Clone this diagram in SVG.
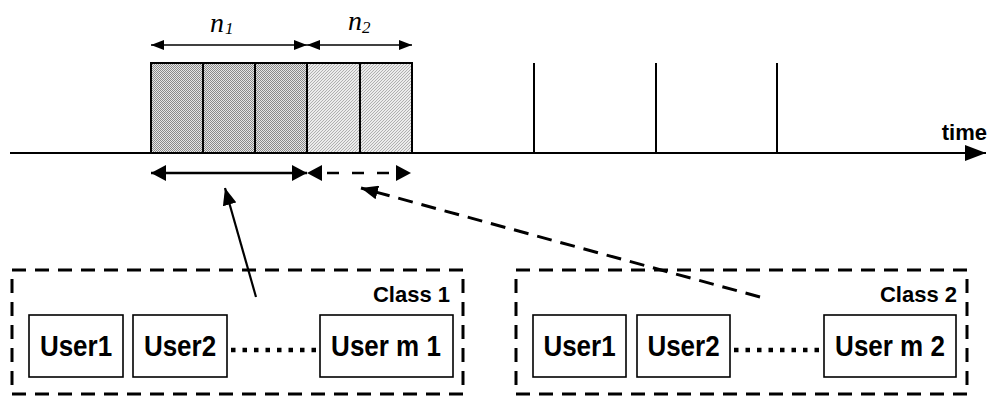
<svg xmlns="http://www.w3.org/2000/svg" width="991" height="396" viewBox="0 0 991 396">
<style>
.lbl{font-family:"Liberation Sans",Arial,sans-serif;font-weight:bold;fill:#000}
.user{font-size:26px;text-anchor:middle}
.cls{font-size:22px;text-anchor:end}
.math{font-family:"Liberation Serif","Times New Roman",serif;font-style:italic;fill:#000}
.ubox{fill:#fff;stroke:#000;stroke-width:1.6}
.cbox{fill:none;stroke:#000;stroke-width:3;stroke-dasharray:14 9}
.blk{stroke:#000;stroke-width:2}
.dots{stroke:#000;stroke-width:4.5;stroke-dasharray:4.5 7}
</style>
<defs>
<pattern id="dark" width="2" height="2" patternUnits="userSpaceOnUse"><rect width="2" height="2" fill="#e6e6e6"/><rect width="1" height="1" fill="#8a8a8a"/><rect x="1" y="1" width="1" height="1" fill="#8a8a8a"/></pattern>
<pattern id="light" width="3" height="3" patternUnits="userSpaceOnUse"><rect width="3" height="3" fill="#ececec"/><path d="M-1,4 L4,-1" stroke="#b0b0b0" stroke-width="1"/></pattern>
<marker id="aS" markerUnits="userSpaceOnUse" markerWidth="13" markerHeight="10" refX="13" refY="5" orient="auto-start-reverse"><path d="M0,0 L13,5 L0,10 z" fill="#000"/></marker>
<marker id="aL" markerUnits="userSpaceOnUse" markerWidth="15" markerHeight="16" refX="15" refY="8" orient="auto-start-reverse"><path d="M0,0 L15,8 L0,16 z" fill="#000"/></marker>
<marker id="aT" markerUnits="userSpaceOnUse" markerWidth="21" markerHeight="16" refX="21" refY="8" orient="auto-start-reverse"><path d="M0,0 L21,8 L0,16 z" fill="#000"/></marker>
<marker id="aD" markerUnits="userSpaceOnUse" markerWidth="17" markerHeight="14" refX="17" refY="7" orient="auto"><path d="M0,0 L17,7 L0,14 z" fill="#000"/></marker>
</defs>
<rect width="991" height="396" fill="#fff"/>

<g id="blocks">
<rect class="blk" x="151" y="63" width="52" height="90" fill="url(#dark)"/>
<rect class="blk" x="203" y="63" width="52" height="90" fill="url(#dark)"/>
<rect class="blk" x="255" y="63" width="52" height="90" fill="url(#dark)"/>
<rect class="blk" x="307" y="63" width="53" height="90" fill="url(#light)"/>
<rect class="blk" x="360" y="63" width="52" height="90" fill="url(#light)"/>
<line x1="534" y1="63" x2="534" y2="153" stroke="#000" stroke-width="2"/>
<line x1="656" y1="63" x2="656" y2="153" stroke="#000" stroke-width="2"/>
<line x1="777" y1="63" x2="777" y2="153" stroke="#000" stroke-width="2"/>
</g>

<g id="timeline">
<line x1="10" y1="153" x2="986" y2="153" stroke="#000" stroke-width="2" marker-end="url(#aT)"/>
<text class="lbl" x="987" y="139.5" font-size="22" text-anchor="end">time</text>
</g>

<g id="labels">
<text class="math" x="210" y="31.5" font-size="28">n</text>
<text class="math" x="225" y="33.5" font-size="17" font-style="normal">1</text>
<text class="math" x="348" y="30" font-size="28">n</text>
<text class="math" x="362" y="33" font-size="17" font-style="normal">2</text>
</g>

<g id="connectors">
<line x1="151" y1="45" x2="307" y2="45" stroke="#000" stroke-width="1.5" marker-start="url(#aS)" marker-end="url(#aS)"/>
<line x1="307" y1="45" x2="412" y2="45" stroke="#000" stroke-width="1.5" marker-start="url(#aS)" marker-end="url(#aS)"/>
<line x1="151" y1="173" x2="307" y2="173" stroke="#000" stroke-width="2.5" marker-start="url(#aL)" marker-end="url(#aL)"/>
<line x1="307" y1="173" x2="411" y2="173" stroke="#000" stroke-width="2.5" stroke-dasharray="0 20 12 13 12 13 12 30" marker-start="url(#aL)" marker-end="url(#aL)"/>
<line x1="256" y1="297" x2="225" y2="188" stroke="#000" stroke-width="2.2" marker-end="url(#aD)"/>
<line x1="760" y1="297" x2="361" y2="188" stroke="#000" stroke-width="3" stroke-dasharray="15 9" marker-end="url(#aD)"/>
</g>

<g id="class1">
<rect class="cbox" x="12" y="270" width="451" height="124"/>
<text class="lbl cls" x="450" y="301.5">Class 1</text>
</g>
<g id="class1-user1">
<rect class="ubox" x="29" y="315" width="94" height="62"/>
<text class="lbl user" transform="translate(76,356) scale(1,1.15)">User1</text>
</g>
<g id="class1-user2">
<rect class="ubox" x="133" y="315" width="94" height="62"/>
<text class="lbl user" transform="translate(180,356) scale(1,1.15)">User2</text>
</g>
<g id="class1-dots"><line class="dots" x1="231" y1="350" x2="320" y2="350"/></g>
<g id="class1-userm">
<rect class="ubox" x="320" y="315" width="133" height="62"/>
<text class="lbl user" transform="translate(386,356) scale(1,1.15)">User m 1</text>
</g>

<g id="class2">
<rect class="cbox" x="516" y="270" width="451" height="124"/>
<text class="lbl cls" x="957" y="301.5">Class 2</text>
</g>
<g id="class2-user1">
<rect class="ubox" x="533" y="315" width="93" height="62"/>
<text class="lbl user" transform="translate(579.5,356) scale(1,1.15)">User1</text>
</g>
<g id="class2-user2">
<rect class="ubox" x="637" y="315" width="93" height="62"/>
<text class="lbl user" transform="translate(683.5,356) scale(1,1.15)">User2</text>
</g>
<g id="class2-dots"><line class="dots" x1="734" y1="350" x2="824" y2="350"/></g>
<g id="class2-userm">
<rect class="ubox" x="824" y="315" width="132" height="62"/>
<text class="lbl user" transform="translate(890,356) scale(1,1.15)">User m 2</text>
</g>
</svg>
